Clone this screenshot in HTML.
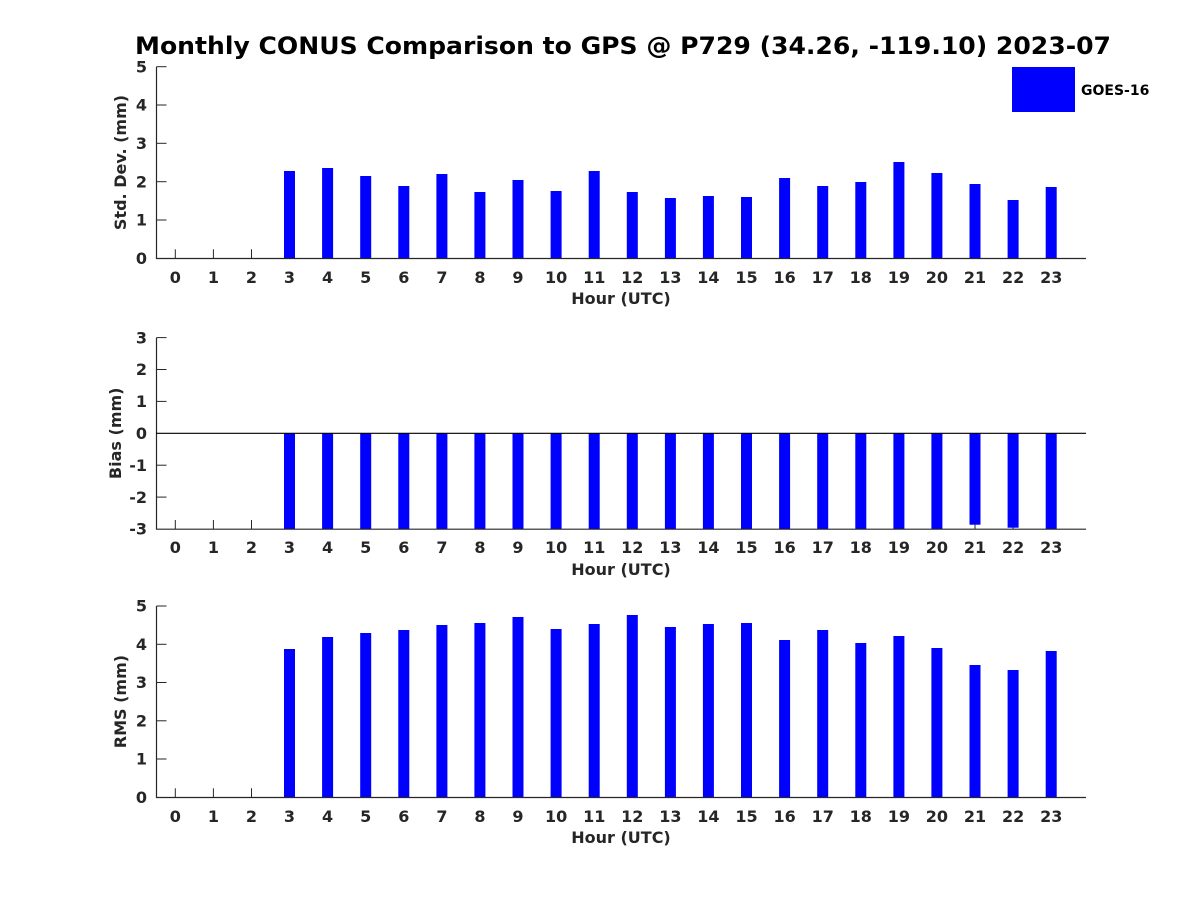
<!DOCTYPE html>
<html>
<head>
<meta charset="utf-8">
<style>
  html, body { margin: 0; padding: 0; background: #ffffff; }
  body { width: 1200px; height: 900px; overflow: hidden; }
  svg text { font-family: "DejaVu Sans", "Liberation Sans", sans-serif; font-weight: bold; }
</style>
</head>
<body>
<svg width="1200" height="900" viewBox="0 0 1200 900" xmlns="http://www.w3.org/2000/svg">
  <rect x="0" y="0" width="1200" height="900" fill="#ffffff"/>

  <!-- Title -->
  <text x="623" y="54" font-size="24" text-anchor="middle" fill="#000000" textLength="976" lengthAdjust="spacingAndGlyphs">Monthly CONUS Comparison to GPS @ P729 (34.26, -119.10) 2023-07</text>

  <!-- ================= PANEL 1 : Std. Dev. ================= -->
  <g stroke="#262626" stroke-width="1" fill="none">
    <!-- x ticks -->
    <line x1="175.3" y1="258.3" x2="175.3" y2="249.3"/>
    <line x1="213.4" y1="258.3" x2="213.4" y2="249.3"/>
    <line x1="251.5" y1="258.3" x2="251.5" y2="249.3"/>
    <!-- y ticks -->
    <line x1="156.5" y1="220" x2="166.5" y2="220"/>
    <line x1="156.5" y1="181.7" x2="166.5" y2="181.7"/>
    <line x1="156.5" y1="143.3" x2="166.5" y2="143.3"/>
    <line x1="156.5" y1="105" x2="166.5" y2="105"/>
    <line x1="156.5" y1="66.7" x2="166.5" y2="66.7"/>
  </g>
  <g fill="#0000ff">
    <rect x="284.0" y="171" width="11" height="87.3"/>
    <rect x="322.1" y="168" width="11" height="90.3"/>
    <rect x="360.2" y="176" width="11" height="82.3"/>
    <rect x="398.3" y="186" width="11" height="72.3"/>
    <rect x="436.4" y="174" width="11" height="84.3"/>
    <rect x="474.4" y="192" width="11" height="66.3"/>
    <rect x="512.5" y="180" width="11" height="78.3"/>
    <rect x="550.6" y="191" width="11" height="67.3"/>
    <rect x="588.7" y="171" width="11" height="87.3"/>
    <rect x="626.8" y="192" width="11" height="66.3"/>
    <rect x="664.9" y="198" width="11" height="60.3"/>
    <rect x="702.9" y="196" width="11" height="62.3"/>
    <rect x="741.0" y="197" width="11" height="61.3"/>
    <rect x="779.1" y="178" width="11" height="80.3"/>
    <rect x="817.2" y="186" width="11" height="72.3"/>
    <rect x="855.3" y="182" width="11" height="76.3"/>
    <rect x="893.4" y="162" width="11" height="96.3"/>
    <rect x="931.4" y="173" width="11" height="85.3"/>
    <rect x="969.5" y="184" width="11" height="74.3"/>
    <rect x="1007.6" y="200" width="11" height="58.3"/>
    <rect x="1045.7" y="187" width="11" height="71.3"/>
  </g>
  <g stroke="#262626" stroke-width="1.2">
    <line x1="156.5" y1="66.7" x2="156.5" y2="258.8"/>
    <line x1="156" y1="258.5" x2="1086" y2="258.5"/>
  </g>
  <g font-size="16" fill="#262626" text-anchor="end">
    <text x="147" y="264">0</text>
    <text x="147" y="225.7">1</text>
    <text x="147" y="187.4">2</text>
    <text x="147" y="149">3</text>
    <text x="147" y="110.7">4</text>
    <text x="147" y="72.4">5</text>
  </g>
  <g font-size="16" fill="#262626" text-anchor="middle">
    <text x="175.3" y="283">0</text><text x="213.4" y="283">1</text><text x="251.5" y="283">2</text>
    <text x="289.5" y="283">3</text><text x="327.6" y="283">4</text><text x="365.7" y="283">5</text>
    <text x="403.8" y="283">6</text><text x="441.9" y="283">7</text><text x="479.9" y="283">8</text>
    <text x="518.0" y="283">9</text><text x="556.1" y="283">10</text><text x="594.2" y="283">11</text>
    <text x="632.3" y="283">12</text><text x="670.4" y="283">13</text><text x="708.4" y="283">14</text>
    <text x="746.5" y="283">15</text><text x="784.6" y="283">16</text><text x="822.7" y="283">17</text>
    <text x="860.8" y="283">18</text><text x="898.9" y="283">19</text><text x="936.9" y="283">20</text>
    <text x="975.0" y="283">21</text><text x="1013.1" y="283">22</text><text x="1051.2" y="283">23</text>
    <text x="621" y="304" font-size="16">Hour (UTC)</text>
  </g>
  <text x="0" y="0" font-size="16" fill="#262626" text-anchor="middle" transform="translate(126,162.5) rotate(-90)">Std. Dev. (mm)</text>

  <!-- Legend -->
  <rect x="1012" y="67" width="63" height="45" fill="#0000ff"/>
  <text x="1081" y="95" font-size="14" fill="#000000">GOES-16</text>

  <!-- ================= PANEL 2 : Bias ================= -->
  <g stroke="#262626" stroke-width="1" fill="none">
    <line x1="175.3" y1="529" x2="175.3" y2="520"/>
    <line x1="213.4" y1="529" x2="213.4" y2="520"/>
    <line x1="251.5" y1="529" x2="251.5" y2="520"/>
    <line x1="975.0" y1="529" x2="975.0" y2="520"/>
    <line x1="1013.1" y1="529" x2="1013.1" y2="520"/>
    <line x1="156.5" y1="337.6" x2="166.5" y2="337.6"/>
    <line x1="156.5" y1="369.5" x2="166.5" y2="369.5"/>
    <line x1="156.5" y1="401.4" x2="166.5" y2="401.4"/>
    <line x1="156.5" y1="465.2" x2="166.5" y2="465.2"/>
    <line x1="156.5" y1="497.1" x2="166.5" y2="497.1"/>
  </g>
  <g fill="#0000ff">
    <rect x="284.0" y="433.3" width="11" height="95.7"/>
    <rect x="322.1" y="433.3" width="11" height="95.7"/>
    <rect x="360.2" y="433.3" width="11" height="95.7"/>
    <rect x="398.3" y="433.3" width="11" height="95.7"/>
    <rect x="436.4" y="433.3" width="11" height="95.7"/>
    <rect x="474.4" y="433.3" width="11" height="95.7"/>
    <rect x="512.5" y="433.3" width="11" height="95.7"/>
    <rect x="550.6" y="433.3" width="11" height="95.7"/>
    <rect x="588.7" y="433.3" width="11" height="95.7"/>
    <rect x="626.8" y="433.3" width="11" height="95.7"/>
    <rect x="664.9" y="433.3" width="11" height="95.7"/>
    <rect x="702.9" y="433.3" width="11" height="95.7"/>
    <rect x="741.0" y="433.3" width="11" height="95.7"/>
    <rect x="779.1" y="433.3" width="11" height="95.7"/>
    <rect x="817.2" y="433.3" width="11" height="95.7"/>
    <rect x="855.3" y="433.3" width="11" height="95.7"/>
    <rect x="893.4" y="433.3" width="11" height="95.7"/>
    <rect x="931.4" y="433.3" width="11" height="95.7"/>
    <rect x="969.5" y="433.3" width="11" height="91.4"/>
    <rect x="1007.6" y="433.3" width="11" height="94.4"/>
    <rect x="1045.7" y="433.3" width="11" height="95.7"/>
  </g>
  <g stroke="#262626" stroke-width="1.2">
    <line x1="156.5" y1="337.6" x2="156.5" y2="529.5"/>
    <line x1="156" y1="529.2" x2="1086" y2="529.2"/>
  </g>
  <line x1="156" y1="433.3" x2="1086" y2="433.3" stroke="#000000" stroke-width="1.2"/>
  <g font-size="16" fill="#262626" text-anchor="end">
    <text x="147" y="343.3">3</text>
    <text x="147" y="375.2">2</text>
    <text x="147" y="407.1">1</text>
    <text x="147" y="439">0</text>
    <text x="147" y="470.9">-1</text>
    <text x="147" y="502.8">-2</text>
    <text x="147" y="534.7">-3</text>
  </g>
  <g font-size="16" fill="#262626" text-anchor="middle">
    <text x="175.3" y="553">0</text><text x="213.4" y="553">1</text><text x="251.5" y="553">2</text>
    <text x="289.5" y="553">3</text><text x="327.6" y="553">4</text><text x="365.7" y="553">5</text>
    <text x="403.8" y="553">6</text><text x="441.9" y="553">7</text><text x="479.9" y="553">8</text>
    <text x="518.0" y="553">9</text><text x="556.1" y="553">10</text><text x="594.2" y="553">11</text>
    <text x="632.3" y="553">12</text><text x="670.4" y="553">13</text><text x="708.4" y="553">14</text>
    <text x="746.5" y="553">15</text><text x="784.6" y="553">16</text><text x="822.7" y="553">17</text>
    <text x="860.8" y="553">18</text><text x="898.9" y="553">19</text><text x="936.9" y="553">20</text>
    <text x="975.0" y="553">21</text><text x="1013.1" y="553">22</text><text x="1051.2" y="553">23</text>
    <text x="621" y="575" font-size="16">Hour (UTC)</text>
  </g>
  <text x="0" y="0" font-size="16" fill="#262626" text-anchor="middle" transform="translate(121,433.3) rotate(-90)">Bias (mm)</text>

  <!-- ================= PANEL 3 : RMS ================= -->
  <g stroke="#262626" stroke-width="1" fill="none">
    <line x1="175.3" y1="797.3" x2="175.3" y2="788.3"/>
    <line x1="213.4" y1="797.3" x2="213.4" y2="788.3"/>
    <line x1="251.5" y1="797.3" x2="251.5" y2="788.3"/>
    <line x1="156.5" y1="759" x2="166.5" y2="759"/>
    <line x1="156.5" y1="720.8" x2="166.5" y2="720.8"/>
    <line x1="156.5" y1="682.5" x2="166.5" y2="682.5"/>
    <line x1="156.5" y1="644.3" x2="166.5" y2="644.3"/>
    <line x1="156.5" y1="606" x2="166.5" y2="606"/>
  </g>
  <g fill="#0000ff">
    <rect x="284.0" y="649" width="11" height="148.3"/>
    <rect x="322.1" y="637" width="11" height="160.3"/>
    <rect x="360.2" y="633" width="11" height="164.3"/>
    <rect x="398.3" y="630" width="11" height="167.3"/>
    <rect x="436.4" y="625" width="11" height="172.3"/>
    <rect x="474.4" y="623" width="11" height="174.3"/>
    <rect x="512.5" y="617" width="11" height="180.3"/>
    <rect x="550.6" y="629" width="11" height="168.3"/>
    <rect x="588.7" y="624" width="11" height="173.3"/>
    <rect x="626.8" y="615" width="11" height="182.3"/>
    <rect x="664.9" y="627" width="11" height="170.3"/>
    <rect x="702.9" y="624" width="11" height="173.3"/>
    <rect x="741.0" y="623" width="11" height="174.3"/>
    <rect x="779.1" y="640" width="11" height="157.3"/>
    <rect x="817.2" y="630" width="11" height="167.3"/>
    <rect x="855.3" y="643" width="11" height="154.3"/>
    <rect x="893.4" y="636" width="11" height="161.3"/>
    <rect x="931.4" y="648" width="11" height="149.3"/>
    <rect x="969.5" y="665" width="11" height="132.3"/>
    <rect x="1007.6" y="670" width="11" height="127.3"/>
    <rect x="1045.7" y="651" width="11" height="146.3"/>
  </g>
  <g stroke="#262626" stroke-width="1.2">
    <line x1="156.5" y1="606" x2="156.5" y2="797.8"/>
    <line x1="156" y1="797.5" x2="1086" y2="797.5"/>
  </g>
  <g font-size="16" fill="#262626" text-anchor="end">
    <text x="147" y="803">0</text>
    <text x="147" y="764.7">1</text>
    <text x="147" y="726.5">2</text>
    <text x="147" y="688.2">3</text>
    <text x="147" y="650">4</text>
    <text x="147" y="611.7">5</text>
  </g>
  <g font-size="16" fill="#262626" text-anchor="middle">
    <text x="175.3" y="822">0</text><text x="213.4" y="822">1</text><text x="251.5" y="822">2</text>
    <text x="289.5" y="822">3</text><text x="327.6" y="822">4</text><text x="365.7" y="822">5</text>
    <text x="403.8" y="822">6</text><text x="441.9" y="822">7</text><text x="479.9" y="822">8</text>
    <text x="518.0" y="822">9</text><text x="556.1" y="822">10</text><text x="594.2" y="822">11</text>
    <text x="632.3" y="822">12</text><text x="670.4" y="822">13</text><text x="708.4" y="822">14</text>
    <text x="746.5" y="822">15</text><text x="784.6" y="822">16</text><text x="822.7" y="822">17</text>
    <text x="860.8" y="822">18</text><text x="898.9" y="822">19</text><text x="936.9" y="822">20</text>
    <text x="975.0" y="822">21</text><text x="1013.1" y="822">22</text><text x="1051.2" y="822">23</text>
    <text x="621" y="843" font-size="16">Hour (UTC)</text>
  </g>
  <text x="0" y="0" font-size="16" fill="#262626" text-anchor="middle" transform="translate(126,701.6) rotate(-90)">RMS (mm)</text>
</svg>
</body>
</html>
